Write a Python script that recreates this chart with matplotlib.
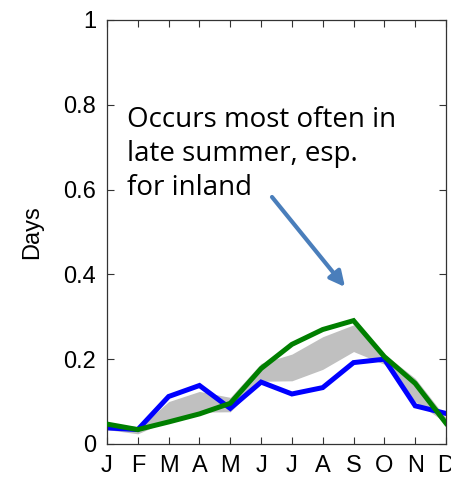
import matplotlib
matplotlib.use("Agg")
import matplotlib.pyplot as plt
import numpy as np

months = ["J", "F", "M", "A", "M", "J", "J", "A", "S", "O", "N", "D"]
blue_vals = [0.038, 0.034, 0.112, 0.138, 0.084, 0.146, 0.118, 0.133, 0.192, 0.200, 0.090, 0.072]
green_vals = [0.047, 0.034, 0.052, 0.071, 0.096, 0.178, 0.235, 0.270, 0.291, 0.206, 0.143, 0.049]
band_upper = [0.045, 0.036, 0.100, 0.124, 0.110, 0.190, 0.212, 0.253, 0.281, 0.212, 0.155, 0.062]
band_lower = [0.034, 0.024, 0.056, 0.075, 0.076, 0.148, 0.149, 0.176, 0.218, 0.188, 0.100, 0.050]
y_ticks = [0, 0.2, 0.4, 0.6, 0.8, 1]
y_tick_labels = ["0", "0.2", "0.4", "0.6", "0.8", "1"]
annotation = "Occurs most often in\nlate summer, esp.\nfor inland"

x = np.arange(1, 13)

fig = plt.figure(figsize=(4.52, 4.83), dpi=100)
ax = fig.add_axes([107/452, 39/483, 339/452, 424/483])

ax.fill_between(x, band_lower, band_upper, color="#c0c0c0", linewidth=0, zorder=1)
ax.plot(x, blue_vals, color="#0000ff", linewidth=3.6, zorder=2, solid_joinstyle="miter")
ax.plot(x, green_vals, color="#007f00", linewidth=3.6, zorder=3, solid_joinstyle="miter")

ax.set_xlim(1, 12)
ax.set_ylim(0, 1)
ax.set_xticks(x)
ax.set_xticklabels(months)
ax.set_yticks(y_ticks)
ax.set_yticklabels(y_tick_labels)
ax.tick_params(direction="in", top=True, right=True, length=5, width=0.8,
               labelsize=17, colors="#333333", labelcolor="black", pad=8)
for lab in ax.get_xticklabels() + ax.get_yticklabels():
    lab.set_family("Liberation Sans")
for s in ax.spines.values():
    s.set_color("#333333")
    s.set_linewidth(0.9)
ax.set_ylabel("Days", fontsize=17, family="Liberation Sans")
ax.yaxis.set_label_coords(-(107 - 43) / 339, 0.5)

fig.text(127/452, 1 - 106/483, annotation, fontsize=20, family="Open Sans",
         va="top", ha="left", linespacing=1.28)
ax.annotate("", xy=(345, 483 - 287), xytext=(272, 483 - 197),
            xycoords="figure pixels", textcoords="figure pixels",
            arrowprops=dict(arrowstyle="-|>,head_length=0.9,head_width=0.45",
                            color="#4a7ebb", lw=3, shrinkA=0, shrinkB=0))

fig.savefig("out.png", dpi=100)
